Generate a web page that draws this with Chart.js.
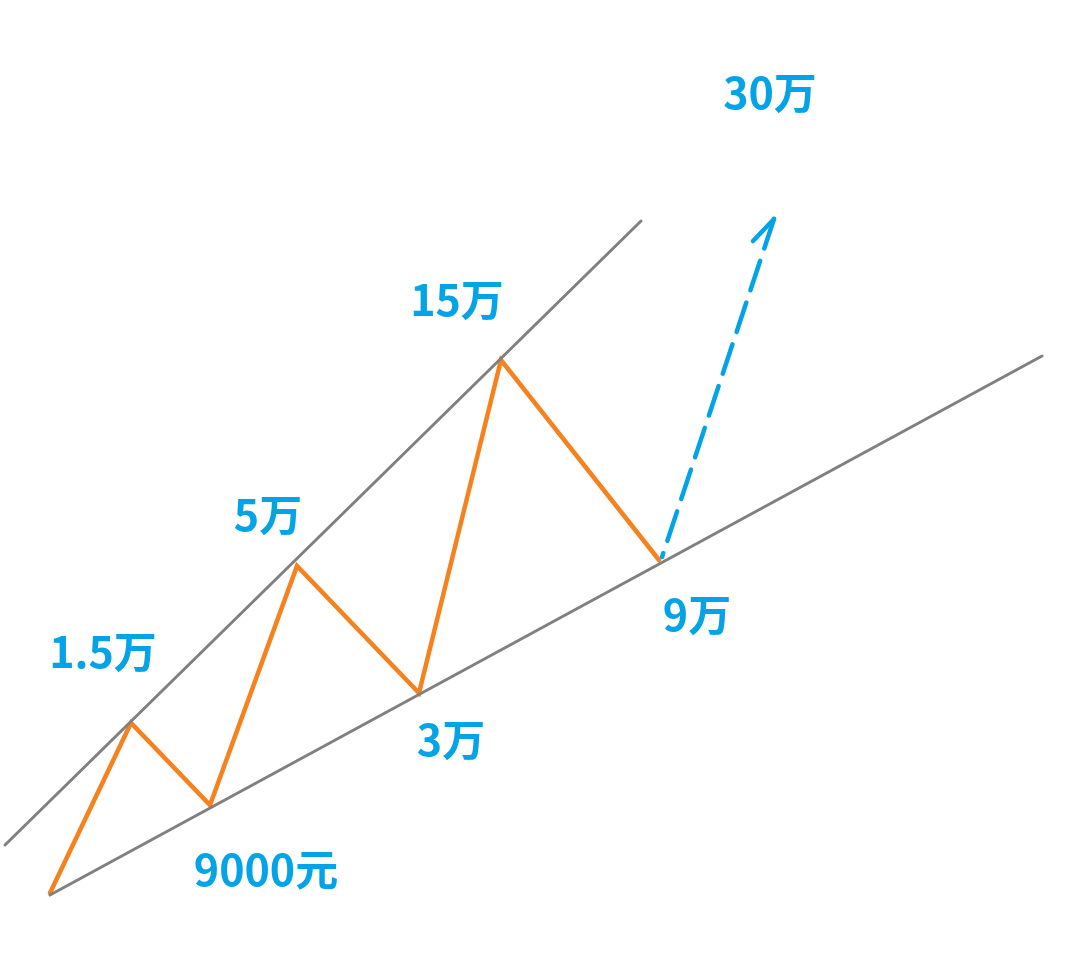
<!DOCTYPE html>
<html>
<head>
<meta charset="utf-8">
<script src="https://cdn.jsdelivr.net/npm/chart.js@4"></script>
<style>
  html, body { margin: 0; padding: 0; background: #fff; }
  #c { display: block; }
</style>
</head>
<body>
<canvas id="c" width="1080" height="962"></canvas>
<script>
// price path (zigzag), trend channel and the projected move
const pathX = [50, 131, 210, 297, 419, 501, 659]
const pathY = [69, 239, 157, 396, 269, 602, 402]

const upperX = [5, 641]
const upperY = [117, 741]
const lowerX = [50, 1042]
const lowerY = [67, 606]

// drawn from the tip down so the dash pattern starts at the arrow head
const nextX = [774, 662]
const nextY = [743, 405]
const headX = [774, 753]
const headY = [743, 721]

const labelText = ['30万', '15万', '5万', '1.5万', '9万', '3万', '9000元']
const labelX = [770, 457, 268, 103, 697, 451, 266]
const labelY = [869, 662, 447, 310, 347, 222, 92]

const pts = (xs, ys) => xs.map((x, i) => ({ x: x, y: ys[i] }))

const blue = '#03a3e8'

const labelPlugin = {
  id: 'labels',
  afterDatasetsDraw(chart) {
    const c = chart.ctx
    const sx = chart.scales.x, sy = chart.scales.y
    c.save()
    c.fillStyle = blue
    c.font = 'bold 43px "Noto Sans CJK SC"'
    c.textAlign = 'center'
    c.textBaseline = 'middle'
    labelText.forEach((t, i) => {
      c.fillText(t, sx.getPixelForValue(labelX[i]), sy.getPixelForValue(labelY[i]))
    })
    c.restore()
  }
}

const line = (data, color, width, extra) => Object.assign({
  data: data,
  borderColor: color,
  borderWidth: width,
  pointRadius: 0,
  tension: 0,
  fill: false,
  borderCapStyle: 'round',
  borderJoinStyle: 'miter'
}, extra || {})

new Chart(document.getElementById('c'), {
  type: 'line',
  data: {
    datasets: [
      line(pts(upperX, upperY), '#808080', 3),
      line(pts(lowerX, lowerY), '#808080', 3),
      line(pts(pathX, pathY), '#f5821f', 4.5),
      line(pts(nextX, nextY), blue, 4.5, { borderDash: [31, 13] }),
      line(pts(headX, headY), blue, 4.5)
    ]
  },
  options: {
    responsive: false,
    animation: false,
    layout: { padding: 0 },
    plugins: { legend: { display: false }, tooltip: { enabled: false } },
    scales: {
      x: { type: 'linear', min: 0, max: 1080, display: false },
      y: { type: 'linear', min: 0, max: 962, display: false }
    }
  },
  plugins: [labelPlugin]
})
</script>
</body>
</html>
